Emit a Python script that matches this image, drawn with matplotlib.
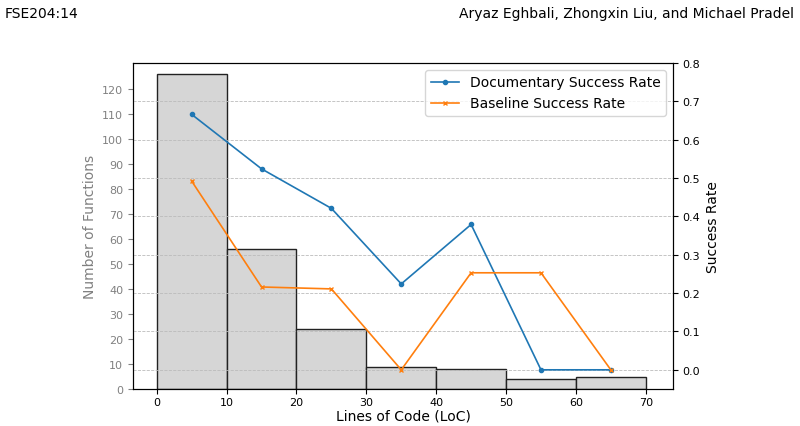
import numpy as np
import matplotlib.pyplot as plt

bin_edges = [0, 10, 20, 30, 40, 50, 60, 70]
func_counts = [126, 56, 24, 9, 8, 4, 5]
bin_centers = [5, 15, 25, 35, 45, 55, 65]
doc_rate = [0.666, 0.524, 0.421, 0.224, 0.379, 0.0, 0.0]
base_rate = [0.492, 0.216, 0.211, 0.0, 0.253, 0.253, 0.0]

fig = plt.figure(figsize=(8, 4.27), dpi=100)
ax = fig.add_axes([133 / 800, 1 - 390 / 427, 540 / 800, 326 / 427])

ax.bar(bin_edges[:-1], func_counts, width=10, align='edge',
       color='#d6d6d6', edgecolor='#222222', linewidth=1)
ax.set_xlim(-3.4, 73.9)
ax.set_ylim(0, 130.4)
ax.set_yticks(range(0, 121, 10))
ax.set_xticks(range(0, 71, 10))
ax.tick_params(axis='y', colors='grey', labelsize=8, labelcolor='grey')
ax.tick_params(axis='x', labelsize=8, pad=2)
ax.set_ylabel('Number of Functions', color='grey', fontsize=10)
ax.set_xlabel('Lines of Code (LoC)', fontsize=10, labelpad=1)

ax2 = ax.twinx()
ax2.plot(bin_centers, doc_rate, marker='o', markersize=3, color='#1f77b4',
         linewidth=1.2, label='Documentary Success Rate')
ax2.plot(bin_centers, base_rate, marker='x', markersize=3, color='#ff7f0e',
         linewidth=1.2, label='Baseline Success Rate')
ax2.set_ylim(-0.05, 0.8)
ax2.set_yticks(np.arange(0, 0.81, 0.1))
ax2.tick_params(axis='y', labelsize=8)
ax2.grid(axis='y', linestyle='--', color='#bbbbbb', linewidth=0.6)
ax2.set_ylabel('Success Rate', fontsize=10)
ax2.legend(loc='upper right', fontsize=10)

fig.text(5 / 800, 1 - 14 / 427, 'FSE204:14', fontsize=10, va='center')
fig.text(794 / 800, 1 - 14 / 427, 'Aryaz Eghbali, Zhongxin Liu, and Michael Pradel',
         fontsize=10, va='center', ha='right')

fig.savefig('out.png', dpi=100)
